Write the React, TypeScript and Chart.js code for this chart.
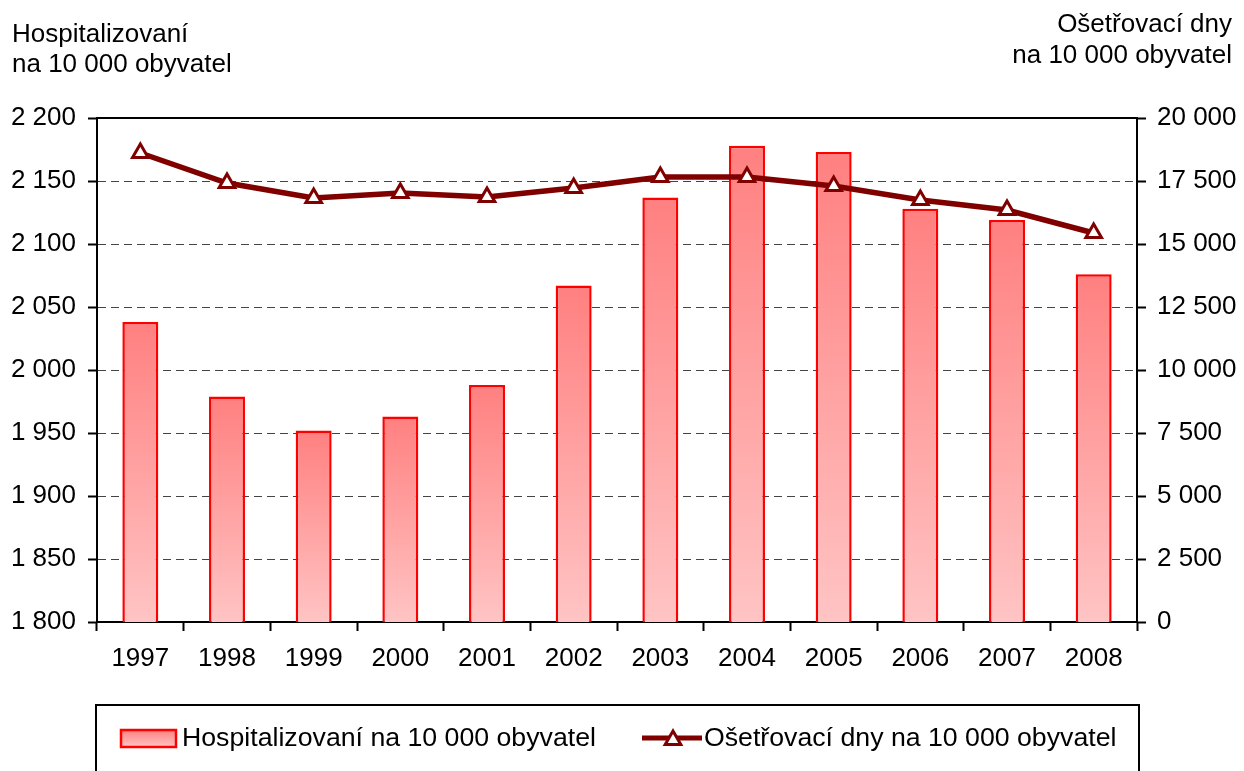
import React, { useEffect, useRef } from "react";
import { Chart, registerables } from "chart.js";

Chart.register(...registerables);

const years = ["1997", "1998", "1999", "2000", "2001", "2002", "2003", "2004", "2005", "2006", "2007", "2008"];
const hospitalized = [2038, 1979, 1952, 1963, 1988, 2067, 2137, 2178, 2173, 2128, 2119, 2076];
const careDays = [18611, 17421, 16825, 17024, 16865, 17222, 17659, 17659, 17302, 16746, 16349, 15437];
const leftTitle = ["Hospitalizovaní", "na 10 000 obyvatel"];
const rightTitle = ["Ošetřovací dny", "na 10 000 obyvatel"];
const barLabel = "Hospitalizovaní na 10 000 obyvatel";
const lineLabel = "Ošetřovací dny na 10 000 obyvatel";

const FONT = "Liberation Sans, Arial, sans-serif";
const fmt = (v: number) => String(v).replace(/\B(?=(\d{3})+(?!\d))/g, " ");

function drawTriangle(ctx: CanvasRenderingContext2D, x: number, y: number, r: number) {
  ctx.beginPath();
  ctx.moveTo(x, y - r);
  ctx.lineTo(x + r * Math.sin((2 * Math.PI) / 3), y - r * Math.cos((2 * Math.PI) / 3));
  ctx.lineTo(x + r * Math.sin((4 * Math.PI) / 3), y - r * Math.cos((4 * Math.PI) / 3));
  ctx.closePath();
}

const decorPlugin = {
  id: "decor",
  beforeDatasetsDraw(chart: any) {
    const { ctx, chartArea } = chart;
    ctx.save();
    ctx.strokeStyle = "#000";
    ctx.lineWidth = 2;
    ctx.strokeRect(chartArea.left, chartArea.top, chartArea.right - chartArea.left, chartArea.bottom - chartArea.top);
    ctx.restore();
  },
  afterDraw(chart: any) {
    const ctx: CanvasRenderingContext2D = chart.ctx;
    ctx.save();
    ctx.font = `26px ${FONT}`;
    ctx.fillStyle = "#000";
    ctx.textBaseline = "alphabetic";
    ctx.textAlign = "left";
    ctx.fillText(leftTitle[0], 12, 42);
    ctx.fillText(leftTitle[1], 12, 72);
    ctx.textAlign = "right";
    ctx.fillText(rightTitle[0], 1232, 32);
    ctx.fillText(rightTitle[1], 1232, 63);

    // legend box
    ctx.strokeStyle = "#000";
    ctx.lineWidth = 2;
    ctx.strokeRect(96, 705, 1043, 120);

    // bar swatch
    const g = ctx.createLinearGradient(0, 730, 0, 747);
    g.addColorStop(0, "#FF8080");
    g.addColorStop(1, "#FFC4C4");
    ctx.fillStyle = g;
    ctx.fillRect(121, 730, 55, 17);
    ctx.strokeStyle = "#FF0000";
    ctx.lineWidth = 2.5;
    ctx.strokeRect(121, 730, 55, 17);

    ctx.font = `26.7px ${FONT}`;
    ctx.fillStyle = "#000";
    ctx.textAlign = "left";
    ctx.textBaseline = "middle";
    ctx.fillText(barLabel, 182, 739);

    // line swatch
    ctx.strokeStyle = "#800000";
    ctx.lineWidth = 5;
    ctx.beginPath();
    ctx.moveTo(642, 738);
    ctx.lineTo(702, 738);
    ctx.stroke();
    drawTriangle(ctx, 673, 740, 9);
    ctx.fillStyle = "#fff";
    ctx.fill();
    ctx.lineWidth = 3;
    ctx.stroke();

    ctx.fillStyle = "#000";
    ctx.fillText(lineLabel, 704, 739);
    ctx.restore();
  },
};

export default function App() {
  const ref = useRef<HTMLCanvasElement | null>(null);

  useEffect(() => {
    if (!ref.current) return;
    const chart = new Chart(ref.current, {
      type: "bar",
      data: {
        labels: years,
        datasets: [
          {
            type: "line",
            label: lineLabel,
            data: careDays,
            yAxisID: "y1",
            order: 0,
            borderColor: "#800000",
            borderWidth: 5.5,
            tension: 0,
            pointStyle: "triangle",
            pointRadius: 9,
            pointBackgroundColor: "#ffffff",
            pointBorderColor: "#800000",
            pointBorderWidth: 3,
          } as any,
          {
            type: "bar",
            label: barLabel,
            data: hospitalized,
            yAxisID: "y",
            order: 1,
            borderColor: "#FF0000",
            borderWidth: 2.5,
            borderSkipped: false,
            barPercentage: 0.415,
            categoryPercentage: 1,
            backgroundColor: (c: any) => {
              const chart = c.chart;
              if (!chart.chartArea || c.type !== "data") return "#FFA0A0";
              const ys = chart.scales.y;
              const top = ys.getPixelForValue(c.raw);
              const bottom = ys.getPixelForValue(ys.min);
              const g = chart.ctx.createLinearGradient(0, top, 0, bottom);
              g.addColorStop(0, "#FF8080");
              g.addColorStop(1, "#FFC4C4");
              return g;
            },
          } as any,
        ],
      },
      options: {
        responsive: false,
        animation: false,
        layout: { padding: { top: 118, left: 0, right: 0, bottom: 0 } },
        plugins: {
          legend: { display: false },
          tooltip: { enabled: false },
        },
        scales: {
          x: {
            offset: true,
            grid: {
              offset: true,
              drawOnChartArea: false,
              drawTicks: true,
              tickLength: 9,
              tickColor: "#000",
              tickWidth: 2,
            },
            border: { color: "#000", width: 2 },
            ticks: {
              color: "#000",
              font: { family: FONT, size: 26 },
              padding: 12,
              maxRotation: 0,
              autoSkip: false,
            },
            afterFit: (s: any) => {
              s.height = 149;
            },
          },
          y: {
            position: "left",
            min: 1800,
            max: 2200,
            ticks: {
              stepSize: 50,
              color: "#000",
              font: { family: FONT, size: 26 },
              padding: 12,
              callback: (v: any) => fmt(Number(v)),
            },
            grid: {
              color: "#444444",
              lineWidth: 1,
              tickColor: "#000",
              tickWidth: 2,
              tickLength: 9,
              tickBorderDash: [1, 0],
            },
            border: { color: "#000", width: 2, dash: [8, 5] },
            afterFit: (s: any) => {
              s.width = 97;
            },
          },
          y1: {
            position: "right",
            min: 0,
            max: 20000,
            ticks: {
              stepSize: 2500,
              color: "#000",
              font: { family: FONT, size: 26 },
              padding: 11,
              callback: (v: any) => fmt(Number(v)),
            },
            grid: {
              drawOnChartArea: false,
              tickColor: "#000",
              tickWidth: 2,
              tickLength: 9,
            },
            border: { color: "#000", width: 2 },
            afterFit: (s: any) => {
              s.width = 107;
            },
          },
        },
      } as any,
      plugins: [decorPlugin],
    });
    return () => chart.destroy();
  }, []);

  return (
    <div style={{ position: "absolute", left: 0, top: 0, width: 1244, height: 771, background: "#fff" }}>
      <canvas ref={ref} width={1244} height={771} />
    </div>
  );
}
